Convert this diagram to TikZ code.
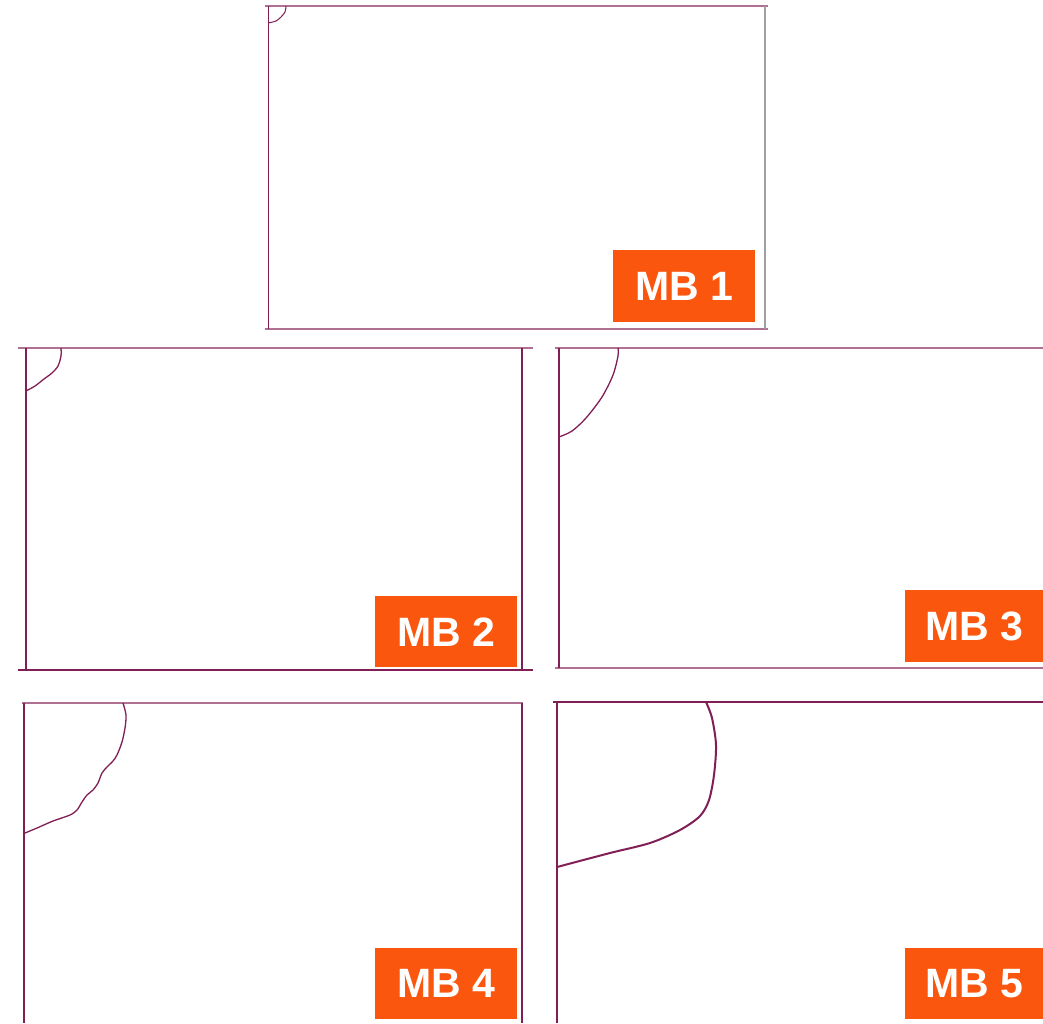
\documentclass[tikz,border=0pt]{standalone}
\usepackage{fontspec}
\setmainfont{Liberation Sans}
\definecolor{frame}{RGB}{128,30,85}
\definecolor{lightframe}{RGB}{176,112,145}
\definecolor{grayframe}{RGB}{160,160,160}
\definecolor{mborange}{RGB}{250,86,14}
\tikzset{
  mblabel/.style={fill=mborange, text=white, inner sep=0pt, anchor=north west,
    font=\fontsize{41}{41}\selectfont\bfseries},
  thinline/.style={draw=frame, line width=1pt},
  midline/.style={draw=frame, line width=1.3pt},
  thickline/.style={draw=frame, line width=2pt},
}
\begin{document}
\begin{tikzpicture}[x=1pt,y=-1pt]
\useasboundingbox (0,0) rectangle (1043,1023);
\fill[white] (0,0) rectangle (1043,1023);
% Panel 1
\draw[draw=lightframe, line width=1.2pt] (265,6) -- (768,6);
\draw[draw=lightframe, line width=1.2pt] (265,329) -- (768,329);
\draw[thinline] (268,6) -- (268,329);
\draw[draw=grayframe, line width=1.2pt] (765,6) -- (765,329);
\draw[thinline] plot[smooth] coordinates {(286,6) (285,12) (281,17) (276,21) (268,23)};
\node[mblabel, minimum width=142pt, minimum height=72pt] (mb1) at (613,250) {MB 1};
% Panel 2
\draw[draw=lightframe, line width=1.3pt] (18,348) -- (533,348);
\draw[midline] (18,670) -- (533,670);
\draw[midline] (26,348) -- (26,670);
\draw[midline] (522,348) -- (522,670);
\draw[midline] plot[smooth] coordinates {(61,348) (61,356) (58,366) (52,373) (44,379) (35,386) (26,391)};
\node[mblabel, minimum width=142pt, minimum height=71pt] (mb2) at (375,596) {MB 2};
% Panel 3
\draw[draw=lightframe, line width=1.3pt] (555,348) -- (1043,348);
\draw[draw=lightframe, line width=1.3pt] (555,668) -- (1043,668);
\draw[midline] (559,348) -- (559,668);
\draw[midline] plot[smooth] coordinates {(618,348) (618,356) (613,375) (602,397) (586,418) (572,431) (559,437)};
\node[mblabel, minimum width=138pt, minimum height=72pt] (mb3) at (905,590) {MB 3};
% Panel 4
\draw[draw=lightframe, line width=1.6pt] (22,703) -- (523,703);
\draw[midline] (24,703) -- (24,1023);
\draw[midline] (522,703) -- (522,1023);
\draw[midline] plot[smooth] coordinates {(123,703) (126,715) (125,728) (122,742) (117,755) (113,761) (107,767) (102,773) (98,783) (93,790) (87,795) (82,802) (77,810) (70,815) (53,821) (37,828) (25,833)};
\node[mblabel, minimum width=142pt, minimum height=71pt] (mb4) at (375,948) {MB 4};
% Panel 5
\draw[thickline] (553,702) -- (1043,702);
\draw[thickline] (557,702) -- (557,1023);
\draw[thickline] plot[smooth] coordinates {(706,702) (712,718) (716,745) (714,775) (709,800) (700,816) (680,830) (650,843) (610,853) (557,867)};
\node[mblabel, minimum width=138pt, minimum height=71pt] (mb5) at (905,948) {MB 5};
\end{tikzpicture}
\end{document}
